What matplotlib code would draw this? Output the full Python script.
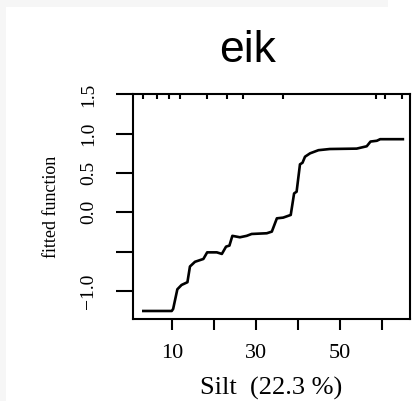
import matplotlib
matplotlib.use("Agg")
import matplotlib.pyplot as plt
from matplotlib.patches import Rectangle

# partial dependence of the fitted function on silt content
silt = [3.1, 9.86, 10.2, 11.2, 12.2, 13.6, 14.2, 15.4, 17.4, 18.3, 20.6, 21.8, 22.8, 23.6,
        24.3, 26.1, 27.7, 28.9, 32.5, 33.7, 34.9, 36.4, 38.2, 39.0, 39.6, 40.4, 41.0,
        41.6, 42.8, 44.8, 47.5, 53.9, 56.3, 57.2, 58.7, 59.5, 64.9]
fitted = [-1.256, -1.256, -1.23, -0.98, -0.925, -0.89, -0.69, -0.63, -0.594, -0.51, -0.51,
          -0.53, -0.437, -0.424, -0.30, -0.318, -0.30, -0.276, -0.267, -0.246, -0.077,
          -0.068, -0.034, 0.24, 0.262, 0.61, 0.63, 0.707, 0.75, 0.79, 0.805, 0.81, 0.84,
          0.90, 0.91, 0.93, 0.93]

# deciles of silt shown as rug on the top axis
rug = [3.1, 6.4, 9.3, 11.8, 18.3, 23.0, 26.8, 36.3, 58.5, 60.6, 64.6]

xticks = [10, 20, 30, 40, 50, 60]
xticklabels = ["10", "", "30", "", "50", ""]
yticks = [-1.0, -0.5, 0.0, 0.5, 1.0, 1.5]
yticklabels = ["\u22121.0", "", "0.0", "0.5", "1.0", "1.5"]

serif = ["Liberation Serif", "DejaVu Serif"]

fig = plt.figure(figsize=(4.12, 4.01), dpi=100)
fig.patch.set_facecolor("white")
fig.patches.append(Rectangle((0, 0), 6 / 412, 1, transform=fig.transFigure,
                             facecolor="#f6f6f6", edgecolor="none"))
fig.patches.append(Rectangle((0, 1 - 7 / 401), 388 / 412, 7 / 401, transform=fig.transFigure,
                             facecolor="#f6f6f6", edgecolor="none"))

ax = fig.add_axes([133 / 412, 82 / 401, 277 / 412, 225 / 401])
ax.plot(silt, fitted, color="black", linewidth=1.9, solid_joinstyle="round")

for r in rug:
    ax.plot([r, r], [1.5, 1.44], color="black", linewidth=1.5, solid_capstyle="butt")

ax.set_xlim(0.64, 66.6)
ax.set_ylim(-1.358, 1.505)

for s in ax.spines.values():
    s.set_linewidth(1.5)

ax.set_xticks(xticks)
ax.set_xticklabels(xticklabels, family=serif, fontsize=16)
ax.set_yticks(yticks)
ax.set_yticklabels(yticklabels, family=serif, fontsize=14, rotation=90, va="center")
ax.tick_params(axis="x", length=8, width=1.5, pad=10)
ax.tick_params(axis="y", length=12, width=1.5, pad=14)

ax.set_xlabel("Silt  (22.3 %)", family=serif, fontsize=19, labelpad=10)
ax.set_ylabel("fitted function", family=serif, fontsize=13, labelpad=14)

fig.text(248 / 412, 1 - 50 / 401, "eik", family=["Liberation Sans", "DejaVu Sans"],
         fontsize=32, ha="center", va="center")

fig.savefig("out.png", dpi=100)
